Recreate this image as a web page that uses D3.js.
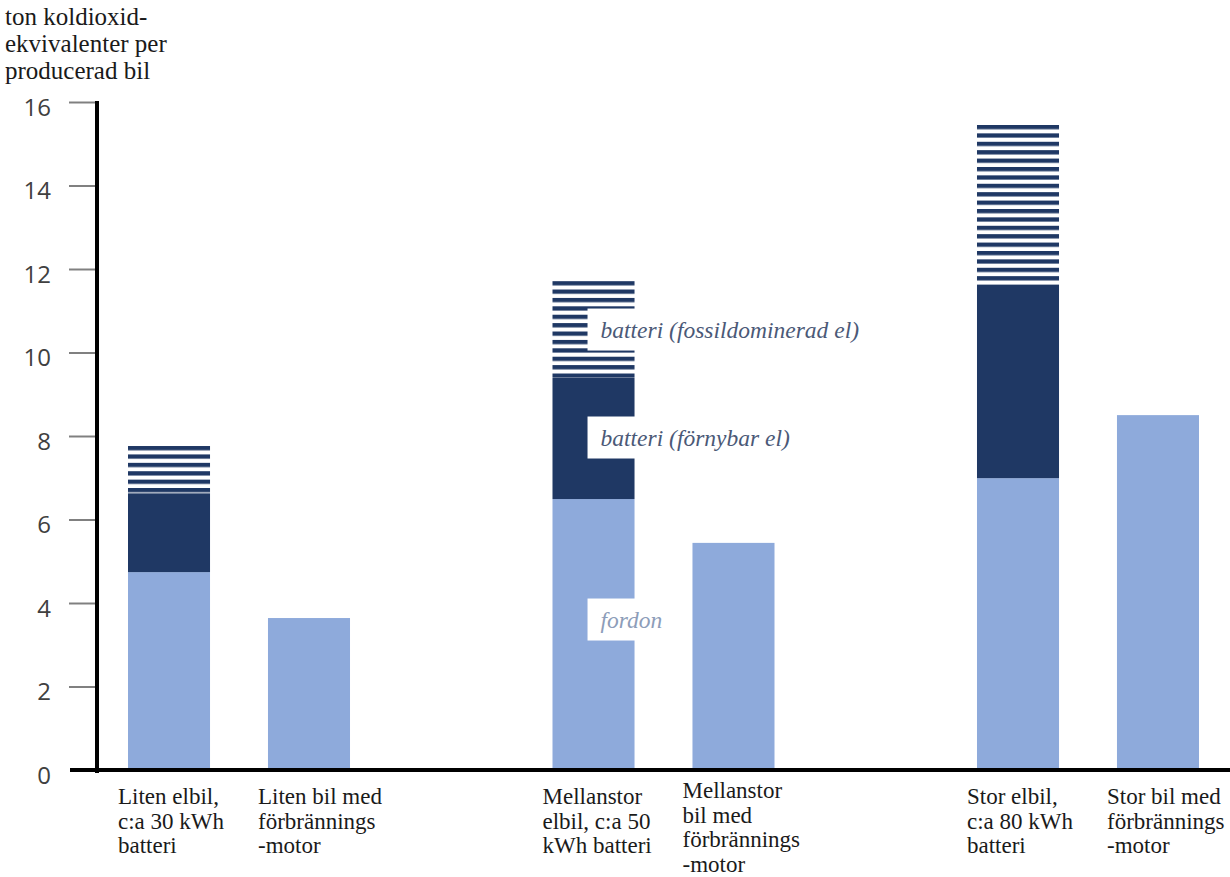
<!DOCTYPE html>
<html>
<head>
<meta charset="utf-8">
<script src="https://cdn.jsdelivr.net/npm/d3@7"></script>
<style>
  html, body { margin: 0; padding: 0; background: #fff; }
  svg { display: block; }
</style>
</head>
<body>
<svg id="chart" width="1230" height="877"></svg>
<script>
// ---- data ----
const groups = ["Liten", "Mellanstor", "Stor"];
const barTypes = ["elbil", "förbränning"];
const xLabelLines = [
  ["Liten elbil,", "c:a 30 kWh", "batteri"],
  ["Liten bil med", "förbrännings", "-motor"],
  ["Mellanstor", "elbil, c:a 50", "kWh batteri"],
  ["Mellanstor", "bil med", "förbrännings", "-motor"],
  ["Stor elbil,", "c:a 80 kWh", "batteri"],
  ["Stor bil med", "förbrännings", "-motor"]
];
const fordon          = [4.74, 3.64, 6.49, 5.44, 6.99, 8.50];
const batteriFornybar = [1.89, 0,    2.90, 0,    4.63, 0];
const batteriFossil   = [1.13, 0,    2.32, 0,    3.83, 0];
const yTicks = [0, 2, 4, 6, 8, 10, 12, 14, 16];
const yTitleLines = ["ton koldioxid-", "ekvivalenter per", "producerad bil"];
const segmentLabels = ["fordon", "batteri (förnybar el)", "batteri (fossildominerad el)"];
const keys = ["fordon", "fornybar", "fossil"];

// ---- setup ----
const svg = d3.select("#chart");
const y = d3.scaleLinear().domain([0, 16]).range([770, 102]);
const x0 = d3.scaleBand().domain(groups).range([128, 1199]).paddingInner(0.477).paddingOuter(0);
const x1 = d3.scaleBand().domain(barTypes).range([0, x0.bandwidth()]).paddingInner(0.414).paddingOuter(0);
const barX = i => x0(groups[Math.floor(i / 2)]) + x1(barTypes[i % 2]);
const bw = x1.bandwidth();

const rows = fordon.map((v, i) => ({ i, fordon: v, fornybar: batteriFornybar[i], fossil: batteriFossil[i] }));
const series = d3.stack().keys(keys)(rows);

const colLight = "#8eaadb", colDark = "#1f3864";

// stripe patterns, one per bar so stripes start at each segment top
const defs = svg.append("defs");
const fossilSeries = series[2];
fossilSeries.forEach((d, i) => {
  const p = defs.append("pattern")
    .attr("id", "stripe" + i)
    .attr("patternUnits", "userSpaceOnUse")
    .attr("x", 0).attr("y", y(d[1]))
    .attr("width", 20).attr("height", 8.4);
  p.append("rect").attr("x", 0).attr("y", 0).attr("width", 20).attr("height", 8.4).attr("fill", "#fff");
  p.append("rect").attr("x", 0).attr("y", 0).attr("width", 20).attr("height", 4.3).attr("fill", colDark);
});

// bars
const fills = [() => colLight, () => colDark, (d, i) => `url(#stripe${i})`];
series.forEach((s, k) => {
  svg.append("g").selectAll("rect")
    .data(s.filter(d => d[1] - d[0] > 0))
    .join("rect")
    .attr("x", d => barX(d.data.i))
    .attr("width", bw)
    .attr("y", d => y(d[1]))
    .attr("height", d => y(d[0]) - y(d[1]))
    .attr("fill", d => fills[k](d, d.data.i));
});

// y axis ticks and labels
const yAxis = d3.axisLeft(y).tickValues(yTicks).tickSize(28).tickPadding(18).tickFormat(d3.format("d"));
const gy = svg.append("g").attr("transform", "translate(97,0)").call(yAxis);
gy.select(".domain").remove();
gy.selectAll(".tick line").attr("stroke", "#808080").attr("stroke-width", 2)
  .filter(d => d === 0).remove();
gy.selectAll(".tick text")
  .attr("font-family", "'Open Sans', sans-serif")
  .attr("font-size", 24)
  .attr("fill", "#404040")
  .attr("dy", "0.55em");

// axis lines
svg.append("line").attr("x1", 97).attr("x2", 97).attr("y1", y(16) - 1).attr("y2", y(0) + 3)
  .attr("stroke", "#000").attr("stroke-width", 4);
svg.append("line").attr("x1", 70).attr("x2", 1230).attr("y1", y(0)).attr("y2", y(0))
  .attr("stroke", "#000").attr("stroke-width", 4);

// y axis title
const yt = svg.append("text").attr("font-family", "'Liberation Serif', serif").attr("font-size", 25)
  .attr("fill", "#1a1a1a");
yt.selectAll("tspan").data(yTitleLines).join("tspan")
  .attr("x", 5).attr("y", (d, i) => 25 + i * 27).text(d => d);

// x labels
xLabelLines.forEach((lines, i) => {
  const t = svg.append("text").attr("font-family", "'Liberation Serif', serif").attr("font-size", 23)
    .attr("fill", "#1a1a1a");
  const y0 = lines.length > 3 ? 798 : 804;
  t.selectAll("tspan").data(lines).join("tspan")
    .attr("x", barX(i) - 10).attr("y", (d, j) => y0 + j * 24.5).text(d => d);
});

// segment labels on middle electric car bar
const li = 2;
const labelSpecs = [
  { key: 0, text: segmentLabels[0], color: "#8d9db9", shift: -15 },
  { key: 1, text: segmentLabels[1], color: "#4b5977", shift: -1 },
  { key: 2, text: segmentLabels[2], color: "#4b5977", shift: 0 }
];
labelSpecs.forEach(s => {
  const d = series[s.key][li];
  const cy = (y(d[0]) + y(d[1])) / 2 + s.shift;
  const bx = barX(li) + bw - 47;
  const g = svg.append("g");
  const txt = g.append("text")
    .attr("x", bx + 13).attr("y", cy + 8)
    .attr("font-family", "'Liberation Serif', serif").attr("font-style", "italic")
    .attr("font-size", 23.5).attr("fill", s.color).text(s.text);
  const w = txt.node().getComputedTextLength();
  g.insert("rect", "text").attr("x", bx).attr("y", cy - 21).attr("width", w + 20).attr("height", 42).attr("fill", "#fff");
});
</script>
</body>
</html>
